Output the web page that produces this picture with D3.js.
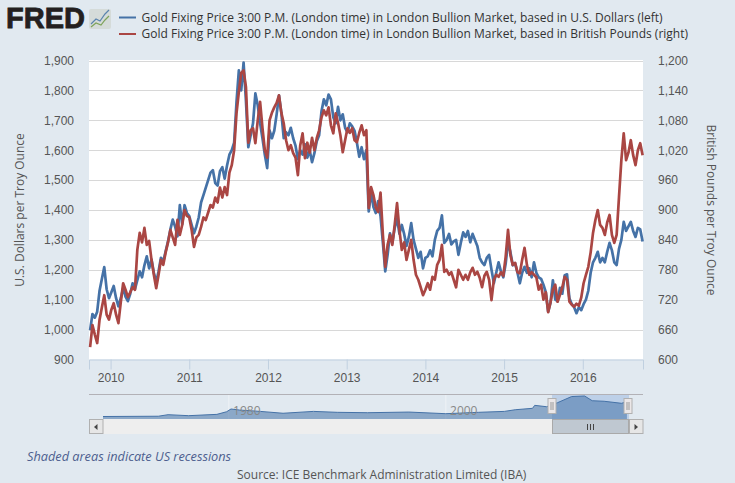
<!DOCTYPE html>
<html>
<head>
<meta charset="utf-8">
<script src="https://cdnjs.cloudflare.com/ajax/libs/d3/7.8.5/d3.min.js"></script>
<style>
html,body{margin:0;padding:0;background:#e1e9f0;}
svg{display:block;font-family:"Open Sans",sans-serif;}
</style>
</head>
<body>
<svg id="chart" width="735" height="483"></svg>
<script>
// values, one row = 0.3 year, first row starts at 2009.74
var usdValues = [
998,1052,1040,1060,1130,1170,1209,1135,1105,1125,
1146,1105,1078,1105,1139,1110,1095,1120,1155,1135,
1165,1195,1175,1215,1245,1205,1235,1190,1158,1195,
1240,1228,1262,1295,1335,1368,1345,1312,1416,1352,
1416,1390,1380,1350,1322,1345,1375,1425,1450,1475,
1500,1525,1533,1490,1482,1530,1543,1505,1549,1585,
1600,1625,1760,1867,1800,1893,1766,1610,1650,1690,
1790,1750,1690,1640,1585,1540,1666,1640,1665,1720,
1783,1725,1640,1660,1650,1675,1640,1615,1570,1600,
1585,1620,1575,1600,1560,1590,1630,1650,1730,1770,
1750,1786,1770,1710,1690,1745,1700,1720,1675,1660,
1690,1680,1665,1625,1578,1610,1570,1600,1395,1460,
1410,1390,1430,1380,1290,1195,1250,1322,1290,1340,
1372,1320,1350,1320,1280,1310,1356,1300,1270,1240,
1260,1205,1240,1245,1265,1245,1300,1330,1340,1382,
1290,1300,1320,1285,1295,1300,1250,1290,1325,1310,
1330,1292,1320,1300,1280,1240,1225,1216,1240,1250,
1200,1155,1190,1225,1195,1175,1220,1292,1260,1215,
1222,1190,1155,1190,1210,1190,1205,1175,1225,1190,
1175,1170,1150,1125,1060,1090,1165,1100,1095,1140,
1120,1182,1185,1105,1085,1075,1055,1075,1065,1085,
1100,1130,1190,1225,1240,1260,1225,1240,1225,1260,
1290,1265,1225,1216,1270,1300,1360,1330,1345,1360,
1330,1310,1340,1335,1295];

var gbpValues = [
625,669,650,633,680,705,729,690,680,700,
713,690,673,715,753,740,725,735,745,740,
820,854,835,864,830,838,800,770,743,770,
800,790,815,835,860,845,830,880,850,870,
900,888,885,860,826,845,850,866,885,880,
895,910,905,925,915,945,925,946,930,975,
990,1020,1094,1137,1175,1180,1147,1035,1060,1064,
1034,1080,1117,1065,1020,1005,1080,1095,1106,1115,
1130,1095,1074,1040,1020,1030,1014,1005,970,1030,
1054,1004,1035,1015,1045,1020,1044,1060,1086,1100,
1090,1106,1070,1054,1094,1075,1050,1016,1040,1064,
1055,1064,1040,1036,1055,1070,1050,1060,904,946,
930,905,896,935,850,786,830,850,830,870,
914,860,820,835,800,820,840,800,770,760,
745,729,740,753,740,766,760,790,800,830,
776,780,770,775,760,745,780,770,760,770,
760,775,784,770,776,764,745,768,776,760,
719,760,770,766,775,768,806,860,810,790,
794,775,773,800,824,790,770,775,770,765,
740,750,720,735,695,715,740,750,716,730,
745,766,760,716,710,706,712,708,724,753,
770,786,815,854,880,900,870,864,850,875,
890,850,834,850,926,1000,1054,1000,1015,1040,
1010,990,1020,1034,1010];

var dates = usdValues.map(function(d,i){return 2009.74+i*0.03;});

var usdTicks = [900,1000,1100,1200,1300,1400,1500,1600,1700,1800,1900];
var gbpTicks = [600,660,720,780,840,900,960,1020,1080,1140,1200];
var yearTicks = [2010,2011,2012,2013,2014,2015,2016];

// navigator series, whole history of the USD price
var navYears = [1968.4,1973.5,1974.4,1976.3,1978.9,1979.8,1980.2,1981,1982.9,1985,1987.8,1990,1992.8,1996.6,2000,2003,2005.4,2006.4,2008,2008.2,2009.3,2010.3,2011.6,2012.8,2013.5,2014.6,2016.2,2016.7];
var navValues = [35,60,200,110,230,470,717,620,500,330,500,415,380,440,290,415,500,650,780,1050,925,1290,1850,1900,1470,1420,1235,1380];
var navTicks = [1980,2000];

var legendLabels = ["Gold Fixing Price 3:00 P.M. (London time) in London Bullion Market, based in U.S. Dollars (left)",
  "Gold Fixing Price 3:00 P.M. (London time) in London Bullion Market, based in British Pounds (right)"];

var blue = "#4572a7", red = "#aa4643", textColor = "#555";
var left = 89, right = 643, top_ = 60, bottom = 359.5;

var svg = d3.select("#chart");

var x = d3.scaleLinear().domain([2009.726,2016.765]).range([left,right]);
var yUsd = d3.scaleLinear().domain([900,1900]).range([bottom,top_+0.5]);
var yGbp = d3.scaleLinear().domain([600,1200]).range([bottom,top_+0.5]);

svg.append("rect").attr("x",left).attr("y",top_).attr("width",right-left).attr("height",bottom-top_).attr("fill","#fff");

// horizontal grid
svg.append("g").selectAll("line").data(usdTicks.slice(1)).enter().append("line")
  .attr("x1",left).attr("x2",right)
  .attr("y1",function(d){return Math.round(yUsd(d))+0.5;}).attr("y2",function(d){return Math.round(yUsd(d))+0.5;})
  .attr("stroke","#d8d8d8");

var xAxis = svg.append("g").attr("transform","translate(0,"+bottom+")")
  .call(d3.axisBottom(x).tickValues(yearTicks).tickFormat(d3.format("d")).tickSize(10).tickPadding(4));
xAxis.select(".domain").attr("stroke","#c0d0e0");
xAxis.selectAll("line").attr("stroke","#c0d0e0");
xAxis.selectAll("text").attr("fill",textColor).style("font-size","12px").style("font-family","inherit");

var leftAxis = svg.append("g").attr("transform","translate("+left+",0)")
  .call(d3.axisLeft(yUsd).tickValues(usdTicks).tickFormat(d3.format(",")).tickSize(0).tickPadding(15));
leftAxis.select(".domain").remove();
leftAxis.selectAll("text").attr("fill",textColor).style("font-size","12px").style("font-family","inherit");

var rightAxis = svg.append("g").attr("transform","translate("+right+",0)")
  .call(d3.axisRight(yGbp).tickValues(gbpTicks).tickFormat(d3.format(",")).tickSize(0).tickPadding(15));
rightAxis.select(".domain").remove();
rightAxis.selectAll("text").attr("fill",textColor).style("font-size","12px").style("font-family","inherit");

svg.append("text").attr("transform","translate(24,210) rotate(-90)").attr("text-anchor","middle")
  .attr("fill",textColor).style("font-size","12px").text("U.S. Dollars per Troy Ounce");
svg.append("text").attr("transform","translate(707,210) rotate(90)").attr("text-anchor","middle")
  .attr("fill",textColor).style("font-size","12px").text("British Pounds per Troy Ounce");

// the two price lines
var lineUsd = d3.line().x(function(d){return x(d[0]);}).y(function(d){return yUsd(d[1]);});
var lineGbp = d3.line().x(function(d){return x(d[0]);}).y(function(d){return yGbp(d[1]);});

svg.append("path").attr("d",lineUsd(d3.zip(dates,usdValues)))
  .attr("fill","none").attr("stroke",blue).attr("stroke-width",2.7).attr("stroke-linejoin","round");
svg.append("path").attr("d",lineGbp(d3.zip(dates,gbpValues)))
  .attr("fill","none").attr("stroke",red).attr("stroke-width",2.7).attr("stroke-linejoin","round");

// logo
svg.append("text").attr("x",6).attr("y",28).attr("fill","#231f20")
  .style("font-family","'Liberation Sans',sans-serif").style("font-weight","bold").style("font-size","29px")
  .attr("stroke","#231f20").attr("stroke-width",0.8).text("FRED");
svg.append("rect").attr("x",89).attr("y",9).attr("width",22).attr("height",20).attr("rx",2).attr("fill","#d5dbd9");
svg.append("polyline").attr("points","91,24 96,19 100,21 105,14 109,10").attr("fill","none").attr("stroke","#5b84ae").attr("stroke-width",1.2);
svg.append("polyline").attr("points","91,27 96,23 101,25 105,20 109,16").attr("fill","none").attr("stroke","#7ea35a").attr("stroke-width",1.2);

// legend
legendLabels.forEach(function(t,i){
  var yy = 17.5 + i*16.5;
  svg.append("line").attr("x1",119).attr("x2",136).attr("y1",yy).attr("y2",yy)
    .attr("stroke",i==0?blue:red).attr("stroke-width",2);
  svg.append("text").attr("x",141.5).attr("y",yy+4).attr("fill","#333").style("font-size","12px").text(t);
});

// navigator
var navX = d3.scaleLinear().domain([1968.4,2016.8]).range([103,628]);
var navY = d3.scaleLinear().domain([-192,1900]).range([419,396]);

svg.append("line").attr("x1",left).attr("x2",right).attr("y1",394.5).attr("y2",394.5).attr("stroke","#b2b1b6");
svg.append("g").selectAll("line").data(navTicks).enter().append("line")
  .attr("x1",function(d){return navX(d);}).attr("x2",function(d){return navX(d);})
  .attr("y1",395).attr("y2",419).attr("stroke","#eef2f6");

var navArea = d3.area().x(function(d){return navX(d[0]);}).y0(419).y1(function(d){return navY(d[1]);});
var navLine = d3.line().x(function(d){return navX(d[0]);}).y(function(d){return navY(d[1]);});
svg.append("rect").attr("x",552).attr("y",395).attr("width",77).attr("height",24).attr("fill","#bdd0e8");
svg.append("path").attr("d",navArea(d3.zip(navYears,navValues))).attr("fill",blue).attr("fill-opacity",0.55);
svg.append("path").attr("d",navLine(d3.zip(navYears,navValues))).attr("fill","none").attr("stroke",blue).attr("stroke-width",1);

svg.append("g").selectAll("text").data(navTicks).enter().append("text")
  .attr("x",function(d){return navX(d)+18;}).attr("y",415).attr("text-anchor","middle")
  .attr("fill","#888").style("font-size","12px").text(function(d){return d;});

// scrollbar
svg.append("rect").attr("x",89).attr("y",419).attr("width",554).attr("height",15).attr("fill","#eeeeee");
svg.append("rect").attr("x",552.5).attr("y",419.5).attr("width",76).attr("height",14).attr("fill","#bfc8d1").attr("stroke","#a9a9a9");
[89,629].forEach(function(bx,i){
  svg.append("rect").attr("x",bx+0.5).attr("y",419.5).attr("width",13.5).attr("height",14).attr("fill","#e6e6e6").attr("stroke","#b0b0b0");
  var cx = bx+7;
  svg.append("path").attr("d",i==0?"M"+(cx+1.5)+",424 l-3.5,3 l3.5,3 z":"M"+(cx-1.5)+",424 l3.5,3 l-3.5,3 z").attr("fill","#444");
});
[587,590,593].forEach(function(gx){
  svg.append("line").attr("x1",gx+0.5).attr("x2",gx+0.5).attr("y1",424).attr("y2",430).attr("stroke","#444");
});
// navigator handles
[552,628].forEach(function(hx){
  svg.append("rect").attr("x",hx-4).attr("y",398.5).attr("width",8).attr("height",15).attr("fill","#ebe7e8").attr("stroke","#b0b0b0");
  svg.append("line").attr("x1",hx-1).attr("x2",hx-1).attr("y1",402).attr("y2",410).attr("stroke","#999");
  svg.append("line").attr("x1",hx+1).attr("x2",hx+1).attr("y1",402).attr("y2",410).attr("stroke","#999");
});

// footer
svg.append("text").attr("x",27).attr("y",461).attr("fill","#4d5f8f").style("font-size","12.75px").style("font-style","italic")
  .text("Shaded areas indicate US recessions");
svg.append("text").attr("x",237).attr("y",479).attr("fill",textColor).style("font-size","12px")
  .text("Source: ICE Benchmark Administration Limited (IBA)");
</script>
</body>
</html>
